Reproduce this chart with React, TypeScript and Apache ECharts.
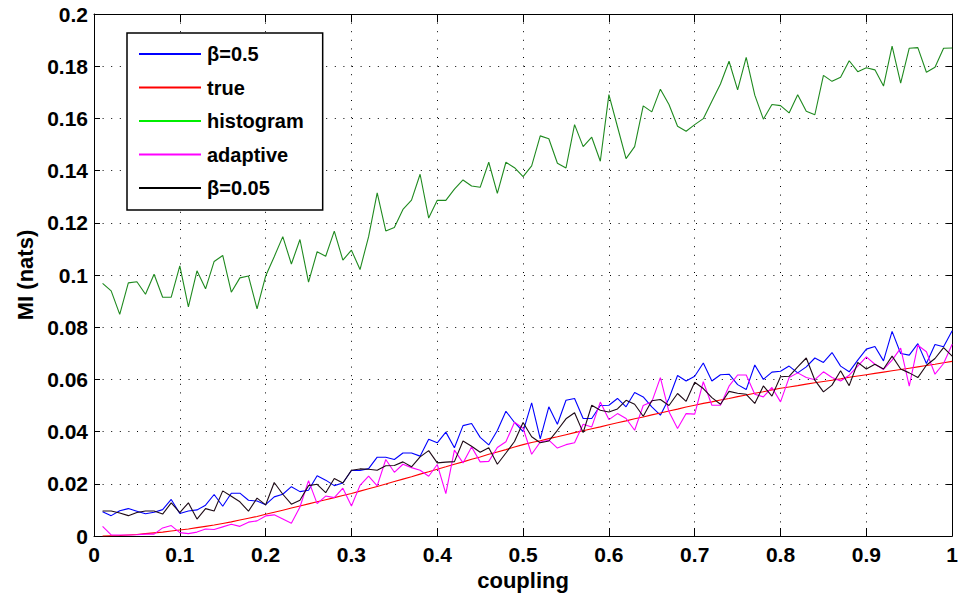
import React, { useEffect, useRef } from "react";
import * as echarts from "echarts";

const couplings: number[] = Array.from({ length: 100 }, (_, i) => (i + 1) / 100);

const xTicks = [0, 1, 0.1];
const yTicks = [0, 0.2, 0.02];

const seriesNames = ["β=0.5", "true", "histogram", "adaptive", "β=0.05"];

const beta05: number[] = [
  0.0093, 0.0078, 0.0097, 0.0105, 0.0095, 0.0085, 0.0091, 0.0101, 0.0140, 0.0086,
  0.0096, 0.0100, 0.0118, 0.0159, 0.0114, 0.0164, 0.0164, 0.0137, 0.0134, 0.0120,
  0.0150, 0.0160, 0.0189, 0.0170, 0.0175, 0.0231, 0.0214, 0.0193, 0.0203, 0.0251,
  0.0251, 0.0258, 0.0302, 0.0302, 0.0293, 0.0318, 0.0318, 0.0306, 0.0371, 0.0357,
  0.0398, 0.0338, 0.0423, 0.0431, 0.0378, 0.0349, 0.0404, 0.0478, 0.0435, 0.0400,
  0.0510, 0.0372, 0.0495, 0.0428, 0.0520, 0.0527, 0.0450, 0.0450, 0.0500, 0.0501,
  0.0527, 0.0495, 0.0550, 0.0533, 0.0495, 0.0463, 0.0527, 0.0615, 0.0594, 0.0612,
  0.0663, 0.0594, 0.0618, 0.0620, 0.0580, 0.0561, 0.0655, 0.0600, 0.0628, 0.0631,
  0.0651, 0.0625, 0.0648, 0.0682, 0.0665, 0.0703, 0.0651, 0.0629, 0.0674, 0.0716,
  0.0726, 0.0671, 0.0784, 0.0699, 0.0693, 0.0737, 0.0661, 0.0734, 0.0725, 0.0786,
];

const trueMI: number[] = [
  0.0000, 0.0001, 0.0002, 0.0004, 0.0006, 0.0009, 0.0012, 0.0015, 0.0019, 0.0023,
  0.0027, 0.0032, 0.0037, 0.0042, 0.0048, 0.0054, 0.0061, 0.0068, 0.0075, 0.0083,
  0.0091, 0.0099, 0.0107, 0.0115, 0.0123, 0.0131, 0.0139, 0.0147, 0.0155, 0.0163,
  0.0172, 0.0181, 0.0190, 0.0199, 0.0209, 0.0218, 0.0227, 0.0237, 0.0246, 0.0256,
  0.0265, 0.0275, 0.0284, 0.0294, 0.0303, 0.0313, 0.0322, 0.0331, 0.0341, 0.0350,
  0.0358, 0.0365, 0.0373, 0.0380, 0.0388, 0.0396, 0.0403, 0.0411, 0.0418, 0.0426,
  0.0434, 0.0441, 0.0449, 0.0456, 0.0464, 0.0471, 0.0479, 0.0486, 0.0494, 0.0501,
  0.0508, 0.0514, 0.0521, 0.0527, 0.0534, 0.0540, 0.0547, 0.0553, 0.0560, 0.0566,
  0.0571, 0.0576, 0.0582, 0.0587, 0.0592, 0.0597, 0.0602, 0.0608, 0.0613, 0.0618,
  0.0623, 0.0628, 0.0633, 0.0638, 0.0643, 0.0648, 0.0653, 0.0658, 0.0664, 0.0669,
];

const histogram: number[] = [
  0.0968, 0.0939, 0.0849, 0.0970, 0.0974, 0.0926, 0.1003, 0.0915, 0.0915, 0.1035,
  0.0878, 0.1016, 0.0947, 0.1052, 0.1075, 0.0934, 0.0989, 0.0996, 0.0870, 0.0996,
  0.1070, 0.1147, 0.1042, 0.1136, 0.0973, 0.1089, 0.1072, 0.1168, 0.1057, 0.1095,
  0.1021, 0.1147, 0.1315, 0.1169, 0.1182, 0.1251, 0.1287, 0.1386, 0.1218, 0.1286,
  0.1286, 0.1329, 0.1364, 0.1341, 0.1336, 0.1432, 0.1313, 0.1432, 0.1411, 0.1377,
  0.1418, 0.1533, 0.1522, 0.1428, 0.1410, 0.1576, 0.1492, 0.1528, 0.1436, 0.1691,
  0.1568, 0.1446, 0.1492, 0.1648, 0.1625, 0.1712, 0.1653, 0.1570, 0.1551, 0.1576,
  0.1599, 0.1666, 0.1732, 0.1819, 0.1709, 0.1834, 0.1689, 0.1597, 0.1653, 0.1649,
  0.1621, 0.1691, 0.1627, 0.1614, 0.1765, 0.1742, 0.1758, 0.1821, 0.1779, 0.1794,
  0.1786, 0.1724, 0.1877, 0.1735, 0.1869, 0.1871, 0.1777, 0.1796, 0.1869, 0.1870,
];

const adaptive: number[] = [
  0.0037, 0.0004, 0.0004, 0.0004, 0.0005, 0.0007, 0.0007, 0.0031, 0.0040, 0.0013,
  0.0009, 0.0015, 0.0027, 0.0025, 0.0035, 0.0045, 0.0037, 0.0053, 0.0058, 0.0077,
  0.0081, 0.0065, 0.0049, 0.0111, 0.0212, 0.0124, 0.0153, 0.0147, 0.0183, 0.0115,
  0.0194, 0.0229, 0.0192, 0.0293, 0.0244, 0.0275, 0.0262, 0.0252, 0.0229, 0.0274,
  0.0162, 0.0329, 0.0280, 0.0341, 0.0284, 0.0286, 0.0339, 0.0361, 0.0436, 0.0413,
  0.0313, 0.0360, 0.0367, 0.0337, 0.0350, 0.0357, 0.0428, 0.0418, 0.0513, 0.0446,
  0.0469, 0.0450, 0.0405, 0.0500, 0.0514, 0.0607, 0.0476, 0.0412, 0.0469, 0.0467,
  0.0591, 0.0501, 0.0501, 0.0574, 0.0617, 0.0617, 0.0543, 0.0533, 0.0569, 0.0514,
  0.0607, 0.0625, 0.0607, 0.0599, 0.0629, 0.0607, 0.0594, 0.0616, 0.0651, 0.0686,
  0.0658, 0.0638, 0.0674, 0.0720, 0.0574, 0.0731, 0.0706, 0.0620, 0.0661, 0.0735,
];

const beta005: number[] = [
  0.0096, 0.0096, 0.0088, 0.0078, 0.0090, 0.0096, 0.0096, 0.0084, 0.0127, 0.0090,
  0.0127, 0.0065, 0.0105, 0.0096, 0.0173, 0.0152, 0.0131, 0.0095, 0.0145, 0.0119,
  0.0205, 0.0160, 0.0122, 0.0137, 0.0193, 0.0198, 0.0166, 0.0220, 0.0203, 0.0252,
  0.0257, 0.0256, 0.0252, 0.0269, 0.0270, 0.0284, 0.0265, 0.0303, 0.0327, 0.0280,
  0.0283, 0.0285, 0.0364, 0.0344, 0.0321, 0.0338, 0.0275, 0.0318, 0.0362, 0.0435,
  0.0380, 0.0357, 0.0364, 0.0405, 0.0449, 0.0472, 0.0396, 0.0501, 0.0482, 0.0475,
  0.0487, 0.0520, 0.0505, 0.0459, 0.0518, 0.0523, 0.0500, 0.0546, 0.0516, 0.0589,
  0.0565, 0.0530, 0.0505, 0.0554, 0.0547, 0.0543, 0.0508, 0.0575, 0.0536, 0.0610,
  0.0612, 0.0648, 0.0682, 0.0597, 0.0552, 0.0578, 0.0633, 0.0576, 0.0665, 0.0640,
  0.0658, 0.0640, 0.0689, 0.0640, 0.0625, 0.0607, 0.0654, 0.0680, 0.0722, 0.0689,
];

const FONT = "'Liberation Sans', Arial, Helvetica, sans-serif";

export default function App() {
  const ref = useRef<HTMLDivElement>(null);

  useEffect(() => {
    if (!ref.current) return;
    const chart = echarts.init(ref.current, undefined, { renderer: "svg" });

    const lineColors = ["#0000ff", "#ff0000", "#1f8a1f", "#ff00ff", "#1e0a16"];
    const legendColors = ["#0000ff", "#ff0000", "#00ee00", "#ff00ff", "#000000"];
    const values = [beta05, trueMI, histogram, adaptive, beta005];

    const axisCommon = {
      type: "value" as const,
      axisLine: { show: true, onZero: false, lineStyle: { color: "#000", width: 1 } },
    };
    const labelStyle = { fontFamily: FONT, fontWeight: "bold", fontSize: 21, color: "#000" };
    const nameStyle = { fontFamily: FONT, fontWeight: "bold", fontSize: 22, color: "#000" };
    const gridLine = { show: true, lineStyle: { color: "#000", width: 1, type: [1, 7.6] } };

    chart.setOption({
      animation: false,
      backgroundColor: "#fff",
      grid: { left: 94, right: 2, top: 14, bottom: 63, containLabel: false },
      legend: {
        orient: "vertical",
        left: 127,
        top: 33,
        padding: [11, 19, 12, 12],
        itemWidth: 62,
        itemHeight: 2,
        itemGap: 13.5,
        icon: "rect",
        backgroundColor: "#fff",
        borderColor: "#000",
        borderWidth: 1.5,
        z: 10,
        textStyle: {
          fontFamily: FONT,
          fontWeight: "bold",
          fontSize: 20,
          lineHeight: 20,
          color: "#000",
          padding: [0, 0, 0, 1],
        },
        data: seriesNames.map((n, i) => ({
          name: n,
          itemStyle: { color: legendColors[i] },
        })),
      },
      xAxis: [
        {
          ...axisCommon,
          min: xTicks[0],
          max: xTicks[1],
          interval: xTicks[2],
          position: "bottom",
          name: "coupling",
          nameLocation: "middle",
          nameGap: 30,
          nameTextStyle: nameStyle,
          axisTick: { show: true, inside: true, length: 8, lineStyle: { color: "#000" } },
          axisLabel: { ...labelStyle, margin: 8 },
          splitLine: gridLine,
        },
        {
          ...axisCommon,
          min: xTicks[0],
          max: xTicks[1],
          interval: xTicks[2],
          position: "top",
          axisTick: { show: true, inside: true, length: 8, lineStyle: { color: "#000" } },
          axisLabel: { show: false },
          splitLine: { show: false },
        },
      ],
      yAxis: [
        {
          ...axisCommon,
          min: yTicks[0],
          max: yTicks[1],
          interval: yTicks[2],
          position: "left",
          name: "MI (nats)",
          nameLocation: "middle",
          nameGap: 57,
          nameTextStyle: nameStyle,
          axisTick: { show: true, inside: true, length: 6, lineStyle: { color: "#000" } },
          axisLabel: { ...labelStyle, margin: 6 },
          splitLine: gridLine,
        },
        {
          ...axisCommon,
          min: yTicks[0],
          max: yTicks[1],
          interval: yTicks[2],
          position: "right",
          axisTick: { show: true, inside: true, length: 6, lineStyle: { color: "#000" } },
          axisLabel: { show: false },
          splitLine: { show: false },
        },
      ],
      series: seriesNames.map((n, i) => ({
        name: n,
        type: "line",
        xAxisIndex: 0,
        yAxisIndex: 0,
        showSymbol: false,
        symbol: "none",
        lineStyle: { color: lineColors[i], width: 1.1 },
        itemStyle: { color: lineColors[i] },
        z: 2 + i,
        data: couplings.map((c, k) => [c, values[i][k]]),
      })),
    });

    return () => chart.dispose();
  }, []);

  return (
    <div
      ref={ref}
      style={{ position: "absolute", left: 0, top: 0, width: 961, height: 599, background: "#fff" }}
    />
  );
}
